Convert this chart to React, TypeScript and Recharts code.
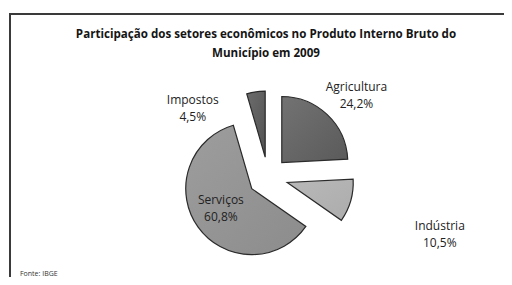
import React from "react";
import { PieChart, Pie, Cell } from "recharts";

const sectors = ["Agricultura", "Indústria", "Serviços", "Impostos"];
const shares = [24.2, 10.5, 60.8, 4.5];
const shareLabels = ["24,2%", "10,5%", "60,8%", "4,5%"];

const data = sectors.map((name, i) => ({ name, value: shares[i] }));

const COLORS = ["#5a5a5a", "#acacac", "#8c8c8c", "#525252"];

// pie centre, radius and how far each slice is pulled out
const CX = 263;
const CY = 172;
const RADIUS = 66;
const EXPLODE = 20;
// label placement (distance from the centre, angle in degrees)
const LABEL_POLAR = [
  { r: 122, a: 40 },
  { r: 187, a: -19 },
  { r: 55, a: 220 },
  { r: 96, a: 137 },
];

const total = shares.reduce((s, v) => s + v, 0);
const midAngles = shares.map((v, i) => {
  const before = shares.slice(0, i).reduce((s, x) => s + x, 0);
  return 90 - ((before + v / 2) / total) * 360;
});

const RAD = Math.PI / 180;

export default function App() {
  return (
    <div style={{ margin: -8 }}>
      <div
        style={{
          position: "relative",
          width: 512,
          height: 285,
          overflow: "hidden",
          background: "#ffffff",
          fontFamily: "'Open Sans', sans-serif",
        }}
      >
        <div
          style={{
            position: "absolute",
            left: 9,
            top: 13,
            width: 540,
            height: 320,
            border: "2px solid #3a3a3a",
            boxSizing: "border-box",
          }}
        />
        <div
          style={{
            position: "absolute",
            left: 0,
            top: 24,
            width: 532,
            textAlign: "center",
            fontSize: 11.6,
            fontWeight: 700,
            lineHeight: "19px",
            color: "#151515",
          }}
        >
          Participação dos setores econômicos no Produto Interno Bruto do
          <br />
          Município em 2009
        </div>

        <div style={{ position: "absolute", left: 0, top: 0 }}>
          <PieChart width={512} height={285}>
            <defs>
              {COLORS.map((c, i) => (
                <linearGradient key={i} id={`slice${i}`} x1="0" y1="0" x2="1" y2="1">
                  <stop offset="0%" stopColor={c} stopOpacity={0.85} />
                  <stop offset="100%" stopColor={c} stopOpacity={1} />
                </linearGradient>
              ))}
            </defs>
            {data.map((_, i) => (
              <Pie
                key={i}
                data={data}
                dataKey="value"
                nameKey="name"
                cx={CX + EXPLODE * Math.cos(midAngles[i] * RAD)}
                cy={CY - EXPLODE * Math.sin(midAngles[i] * RAD)}
                outerRadius={RADIUS}
                startAngle={90}
                endAngle={-270}
                isAnimationActive={false}
                labelLine={false}
                label={(p: any) => {
                  if (p.index !== i) return null;
                  const lp = LABEL_POLAR[i];
                  const x = CX + lp.r * Math.cos(lp.a * RAD);
                  const y = CY + 1 - lp.r * Math.sin(lp.a * RAD);
                  return (
                    <text
                      x={x}
                      y={y}
                      textAnchor="middle"
                      fill="#222"
                      fontSize={12}
                      fontFamily="'Open Sans', sans-serif"
                    >
                      <tspan x={x} dy={-4}>{sectors[i]}</tspan>
                      <tspan x={x} dy={17}>{shareLabels[i]}</tspan>
                    </text>
                  );
                }}
              >
                {data.map((_, j) => (
                  <Cell
                    key={j}
                    fill={j === i ? `url(#slice${i})` : "none"}
                    stroke={j === i ? "#2a2a2a" : "none"}
                    strokeWidth={1.2}
                  />
                ))}
              </Pie>
            ))}
          </PieChart>
        </div>

        <div
          style={{
            position: "absolute",
            left: 20,
            top: 269,
            fontSize: 7,
            lineHeight: "10px",
            color: "#333",
            whiteSpace: "nowrap",
          }}
        >
          Fonte: IBGE
        </div>
      </div>
    </div>
  );
}
